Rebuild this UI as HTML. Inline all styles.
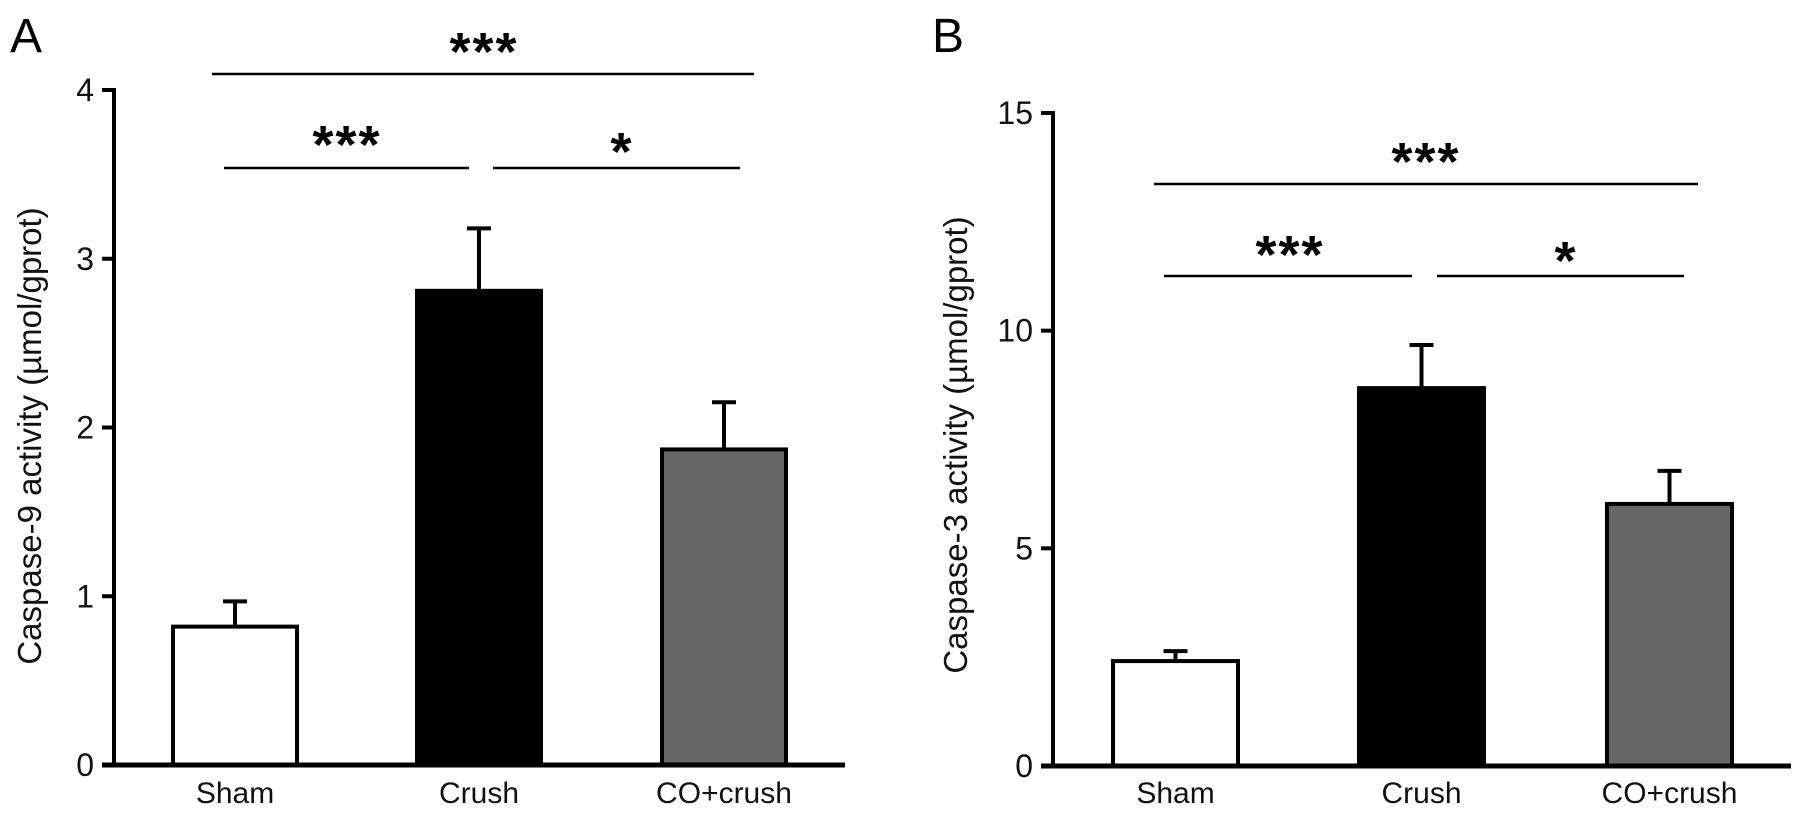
<!DOCTYPE html>
<html><head><meta charset="utf-8"><style>
html,body{margin:0;padding:0;background:#fff;}
svg{display:block;font-family:"Liberation Sans",Arial,sans-serif;}
</style></head><body>
<svg id="fig" width="1798" height="819" viewBox="0 0 1798 819"></svg>
<script>
const categories = ["Sham","Crush","CO+crush"];
const casp9Values = [0.82, 2.81, 1.87];
const casp9Errors = [0.15, 0.37, 0.28];
const casp3Values = [2.41, 8.68, 6.02];
const casp3Errors = [0.23, 0.99, 0.76];
const casp9Ticks = [0,1,2,3,4];
const casp3Ticks = [0,5,10,15];
const barFills = ["#ffffff","#000000","#666666"];

const NS = "http://www.w3.org/2000/svg";
const svg = document.getElementById('fig');
function mk(tag, attrs, parent){
  const e = document.createElementNS(NS, tag);
  for (const k in attrs) e.setAttribute(k, attrs[k]);
  (parent||svg).appendChild(e);
  return e;
}

function panel(cfg){
  const g = mk('g', {});
  
  
  const y = v => cfg.y0 - (v - 0) / cfg.ymax * (cfg.y0 - cfg.ytop);
  const L = mk('text', {x: cfg.letterX, y: 52, 'font-size': 48}, g);
  L.textContent = cfg.letter;
  
  
  cfg.values.forEach((v, i) => {
    const x0 = cfg.barX[i], w = cfg.barW;
    const cx = x0 + w / 2;
    const et = y(v + cfg.errors[i]);
    const eb = mk('line', {x1: cx, x2: cx, y1: y(v), y2: et, stroke: '#000', 'stroke-width': 4}, g);
    
    
    const cap = mk('line', {x1: cx - 12, x2: cx + 12, y1: et, y2: et, stroke: '#000', 'stroke-width': 4}, g);
    
    
    const r = mk('rect', {x: x0, y: y(v), width: w, height: cfg.y0 - y(v), fill: barFills[i], stroke: '#000', 'stroke-width': 4}, g);
    
    
    const t = mk('text', {x: cx, y: 803, 'font-size': 30, 'text-anchor': 'middle', fill: '#111'}, g);
    t.textContent = categories[i];
    
    
  });
  const ya = mk('line', {x1: cfg.ax, x2: cfg.ax, y1: cfg.ytop - 2, y2: cfg.y0 + 2, stroke: '#000', 'stroke-width': 4}, g);
  
  
  const xa = mk('line', {x1: cfg.ax - 12, x2: cfg.xend, y1: cfg.y0, y2: cfg.y0, stroke: '#000', 'stroke-width': 5}, g);
  
  
  cfg.ticks.forEach(tv => {
    const ty = y(tv);
    const tk = mk('line', {x1: cfg.ax - 12, x2: cfg.ax, y1: ty, y2: ty, stroke: '#000', 'stroke-width': 4}, g);
    
    
    const tl = mk('text', {x: cfg.ax - 20, y: ty + 11, 'font-size': 32, 'text-anchor': 'end', fill: '#111'}, g);
    tl.textContent = tv;
    
    
  });
  const yt = mk('text', {x: 0, y: 0, 'font-size': 33, 'text-anchor': 'middle', fill: '#111',
    transform: `translate(${cfg.titleX},${cfg.titleY}) rotate(-90)`}, g);
  yt.textContent = cfg.title;
  
  
  cfg.sig.forEach(s => {
    const ln = mk('line', {x1: s[0], x2: s[1], y1: s[2], y2: s[2], stroke: '#000', 'stroke-width': 2.5}, g);
    
    
    const st = mk('text', {x: s[3], y: s[4], 'font-size': 54, 'font-weight': 'bold', 'letter-spacing': '2', 'text-anchor': 'middle'}, g);
    st.textContent = s[5];
    
    
  });
}

panel({name: 'panel-a-caspase9', letter: 'A', letterX: 10, values: casp9Values, errors: casp9Errors,
  ticks: casp9Ticks, ymax: 4, y0: 765, ytop: 90, ax: 114, xend: 845, barX: [173, 417, 662], barW: 124,
  title: 'Caspase-9 activity (µmol/gprot)', titleX: 41, titleY: 436,
  sig: [[212, 754, 74, 484, 70, '***'], [224, 469, 168, 347, 163, '***'], [493, 740, 168, 622, 170, '*']]});
panel({name: 'panel-b-caspase3', letter: 'B', letterX: 932, values: casp3Values, errors: casp3Errors,
  ticks: casp3Ticks, ymax: 15, y0: 766, ytop: 113, ax: 1053, xend: 1791, barX: [1113, 1359, 1607], barW: 125,
  title: 'Caspase-3 activity (µmol/gprot)', titleX: 967, titleY: 445,
  sig: [[1154, 1698, 184, 1426, 180, '***'], [1164, 1412, 276, 1290, 273, '***'], [1437, 1684, 276, 1566, 279, '*']]});
</script>
</body></html>
